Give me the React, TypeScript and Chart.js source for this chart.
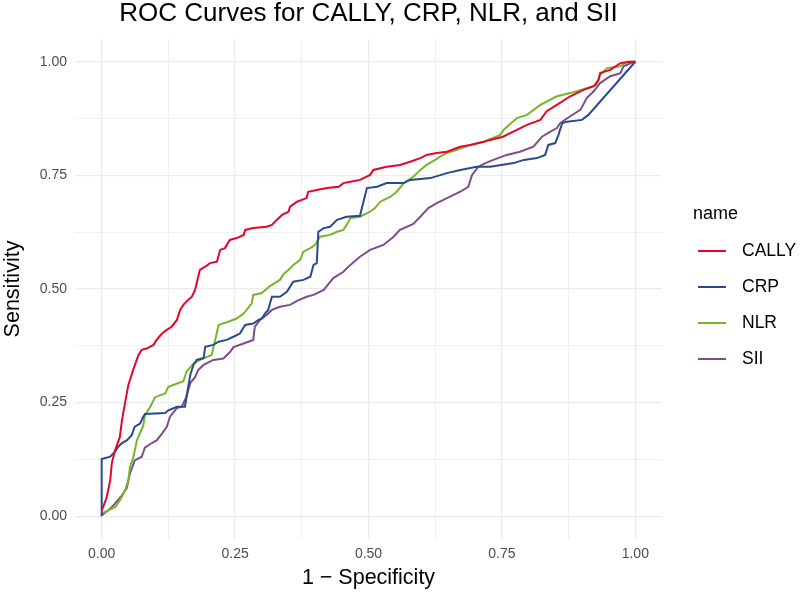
import React, { useEffect, useRef } from "react";
import { Chart, registerables } from "chart.js";

Chart.register(...registerables);

const chartTitle = "ROC Curves for CALLY, CRP, NLR, and SII";
const xAxisTitle = "1 \u2212 Specificity";
const yAxisTitle = "Sensitivity";
const legendTitle = "name";
const seriesNames = ["CALLY", "CRP", "NLR", "SII"];
const seriesColors = ["#E4062B", "#2B4A8C", "#77B62A", "#7E4C8F"];

const gridValues = [0, 0.125, 0.25, 0.375, 0.5, 0.625, 0.75, 0.875, 1];
const majorTickValues = [0, 0.25, 0.5, 0.75, 1];
const majorTickLabels = ["0.00", "0.25", "0.50", "0.75", "1.00"];

const callyX = [0, 0.002, 0.009, 0.016, 0.019, 0.025, 0.034, 0.038, 0.044, 0.05, 0.059, 0.069, 0.075, 0.084, 0.097, 0.103, 0.113, 0.122, 0.131, 0.141, 0.147, 0.153, 0.162, 0.169, 0.175, 0.184, 0.194, 0.203, 0.216, 0.222, 0.231, 0.24, 0.253, 0.266, 0.269, 0.284, 0.309, 0.319, 0.328, 0.338, 0.35, 0.353, 0.366, 0.384, 0.387, 0.403, 0.422, 0.444, 0.453, 0.466, 0.484, 0.503, 0.509, 0.534, 0.559, 0.578, 0.597, 0.609, 0.628, 0.647, 0.672, 0.691, 0.716, 0.728, 0.752, 0.778, 0.797, 0.822, 0.834, 0.853, 0.878, 0.903, 0.922, 0.931, 0.934, 0.953, 0.972, 0.991, 1];
const callyY = [0.013, 0.018, 0.04, 0.079, 0.117, 0.145, 0.174, 0.211, 0.251, 0.289, 0.322, 0.355, 0.366, 0.369, 0.377, 0.388, 0.402, 0.41, 0.417, 0.432, 0.454, 0.465, 0.476, 0.483, 0.498, 0.542, 0.549, 0.557, 0.56, 0.586, 0.59, 0.608, 0.612, 0.619, 0.63, 0.634, 0.637, 0.641, 0.652, 0.663, 0.67, 0.681, 0.692, 0.7, 0.714, 0.718, 0.722, 0.725, 0.733, 0.736, 0.74, 0.751, 0.762, 0.769, 0.773, 0.78, 0.788, 0.795, 0.799, 0.802, 0.813, 0.817, 0.824, 0.828, 0.835, 0.85, 0.861, 0.872, 0.891, 0.905, 0.924, 0.938, 0.946, 0.96, 0.975, 0.982, 0.997, 1, 1];

const crpX = [0, 0, 0.016, 0.025, 0.031, 0.038, 0.047, 0.056, 0.062, 0.072, 0.078, 0.081, 0.119, 0.125, 0.141, 0.156, 0.159, 0.166, 0.172, 0.178, 0.191, 0.194, 0.209, 0.219, 0.234, 0.247, 0.259, 0.269, 0.284, 0.294, 0.3, 0.306, 0.312, 0.319, 0.334, 0.347, 0.359, 0.378, 0.391, 0.397, 0.403, 0.406, 0.416, 0.428, 0.441, 0.459, 0.484, 0.497, 0.516, 0.534, 0.566, 0.578, 0.616, 0.647, 0.672, 0.703, 0.728, 0.772, 0.791, 0.816, 0.831, 0.837, 0.85, 0.856, 0.863, 0.872, 0.9, 0.912, 1];
const crpY = [0, 0.126, 0.131, 0.142, 0.153, 0.161, 0.167, 0.178, 0.197, 0.204, 0.219, 0.225, 0.227, 0.233, 0.241, 0.241, 0.263, 0.311, 0.333, 0.344, 0.348, 0.373, 0.377, 0.384, 0.388, 0.395, 0.402, 0.421, 0.424, 0.432, 0.435, 0.446, 0.454, 0.483, 0.483, 0.494, 0.516, 0.52, 0.527, 0.553, 0.557, 0.626, 0.634, 0.637, 0.652, 0.659, 0.661, 0.722, 0.725, 0.733, 0.733, 0.74, 0.744, 0.755, 0.762, 0.769, 0.769, 0.777, 0.784, 0.788, 0.795, 0.817, 0.821, 0.839, 0.865, 0.868, 0.872, 0.883, 1];

const nlrX = [0, 0.012, 0.025, 0.034, 0.044, 0.05, 0.053, 0.059, 0.066, 0.078, 0.081, 0.091, 0.1, 0.119, 0.125, 0.153, 0.159, 0.172, 0.184, 0.206, 0.212, 0.219, 0.237, 0.253, 0.266, 0.281, 0.284, 0.3, 0.316, 0.334, 0.341, 0.35, 0.359, 0.372, 0.378, 0.391, 0.4, 0.409, 0.428, 0.441, 0.453, 0.459, 0.466, 0.484, 0.503, 0.512, 0.522, 0.541, 0.553, 0.566, 0.584, 0.597, 0.609, 0.625, 0.634, 0.647, 0.666, 0.691, 0.716, 0.747, 0.753, 0.778, 0.797, 0.822, 0.853, 0.878, 0.909, 0.928, 0.934, 0.947, 0.972, 0.984, 1];
const nlrY = [0.006, 0.013, 0.02, 0.035, 0.057, 0.079, 0.109, 0.128, 0.167, 0.2, 0.222, 0.241, 0.262, 0.27, 0.285, 0.297, 0.318, 0.336, 0.344, 0.355, 0.384, 0.421, 0.428, 0.435, 0.446, 0.468, 0.487, 0.491, 0.507, 0.52, 0.533, 0.542, 0.553, 0.564, 0.582, 0.59, 0.597, 0.615, 0.619, 0.626, 0.63, 0.641, 0.656, 0.659, 0.67, 0.678, 0.692, 0.703, 0.714, 0.733, 0.747, 0.762, 0.773, 0.784, 0.791, 0.799, 0.806, 0.817, 0.824, 0.839, 0.85, 0.876, 0.883, 0.905, 0.924, 0.931, 0.942, 0.949, 0.971, 0.986, 0.99, 1, 1];

const siiX = [0, 0.012, 0.022, 0.038, 0.047, 0.053, 0.062, 0.075, 0.081, 0.091, 0.103, 0.113, 0.122, 0.128, 0.141, 0.15, 0.159, 0.166, 0.175, 0.181, 0.191, 0.209, 0.228, 0.241, 0.247, 0.266, 0.284, 0.287, 0.297, 0.309, 0.319, 0.334, 0.353, 0.366, 0.384, 0.397, 0.416, 0.434, 0.453, 0.466, 0.484, 0.503, 0.528, 0.547, 0.559, 0.584, 0.597, 0.612, 0.628, 0.647, 0.672, 0.687, 0.694, 0.706, 0.719, 0.734, 0.759, 0.784, 0.809, 0.825, 0.841, 0.853, 0.859, 0.878, 0.897, 0.909, 0.922, 0.934, 0.953, 0.972, 0.978, 0.997, 1];
const siiY = [0.002, 0.013, 0.024, 0.046, 0.062, 0.094, 0.123, 0.131, 0.151, 0.159, 0.167, 0.182, 0.197, 0.219, 0.238, 0.241, 0.263, 0.293, 0.306, 0.322, 0.333, 0.344, 0.347, 0.362, 0.372, 0.38, 0.388, 0.417, 0.432, 0.443, 0.454, 0.461, 0.465, 0.474, 0.483, 0.487, 0.498, 0.524, 0.538, 0.553, 0.571, 0.586, 0.597, 0.615, 0.63, 0.643, 0.659, 0.678, 0.689, 0.7, 0.714, 0.725, 0.751, 0.769, 0.777, 0.784, 0.795, 0.802, 0.813, 0.835, 0.846, 0.854, 0.865, 0.88, 0.894, 0.92, 0.935, 0.953, 0.968, 0.975, 0.99, 1, 1];

const seriesX = [callyX, crpX, nlrX, siiX];
const seriesY = [callyY, crpY, nlrY, siiY];

const FONT = "'Liberation Sans', Arial, Helvetica, sans-serif";

const isMajor = (v: number) => majorTickValues.some((m) => Math.abs(m - v) < 1e-9);
const labelFor = (v: number) => {
  const i = majorTickValues.findIndex((m) => Math.abs(m - v) < 1e-9);
  return i >= 0 ? majorTickLabels[i] : "";
};

const decorPlugin = {
  id: "decor",
  afterDraw(chart: any) {
    const { ctx, chartArea } = chart;
    ctx.save();
    ctx.fillStyle = "#000000";
    ctx.textBaseline = "middle";
    ctx.textAlign = "center";
    ctx.font = `26px ${FONT}`;
    ctx.fillText(chartTitle, (chartArea.left + chartArea.right) / 2, 14);

    ctx.textAlign = "left";
    ctx.font = `18px ${FONT}`;
    ctx.fillText(legendTitle, 693, 214);
    const rowY = [251, 287, 323, 359];
    chart.data.datasets.forEach((ds: any, i: number) => {
      ctx.strokeStyle = ds.borderColor;
      ctx.lineWidth = 2;
      ctx.beginPath();
      ctx.moveTo(698, rowY[i]);
      ctx.lineTo(726, rowY[i]);
      ctx.stroke();
      ctx.fillStyle = "#000000";
      ctx.font = `17.5px ${FONT}`;
      ctx.fillText(ds.label, 742, rowY[i]);
    });
    ctx.restore();
  },
};

export default function App() {
  const ref = useRef<HTMLCanvasElement | null>(null);
  useEffect(() => {
    document.body.style.margin = "0";
    const canvas = ref.current;
    if (!canvas) return;
    const datasets = seriesNames.map((name, i) => ({
      label: name,
      data: seriesX[i].map((x, j) => ({ x, y: seriesY[i][j] })),
      borderColor: seriesColors[i],
      backgroundColor: seriesColors[i],
      borderWidth: 2,
      pointRadius: 0,
      tension: 0,
      fill: false,
    }));
    const gridWidth = (ctx: any) => (ctx.tick && isMajor(ctx.tick.value) ? 1.3 : 0.7);
    const chart = new Chart(canvas, {
      type: "line",
      data: { datasets },
      plugins: [decorPlugin],
      options: {
        responsive: false,
        animation: false,
        layout: { padding: { top: 39, right: 138, left: 0, bottom: 0 } },
        plugins: { legend: { display: false }, title: { display: false }, tooltip: { enabled: false } },
        scales: {
          x: {
            type: "linear",
            min: -0.05,
            max: 1.05,
            afterBuildTicks: (s: any) => {
              s.ticks = gridValues.map((v) => ({ value: v }));
            },
            afterFit: (s: any) => {
              s.height = 56;
            },
            ticks: {
              autoSkip: false,
              maxRotation: 0,
              padding: 7,
              color: "#4D4D4D",
              font: { size: 14, family: FONT },
              callback: (v: any) => labelFor(Number(v)),
            },
            grid: { color: "#EBEBEB", lineWidth: gridWidth, drawTicks: false },
            border: { display: false },
            title: {
              display: true,
              text: xAxisTitle,
              color: "#000000",
              font: { size: 21.5, family: FONT },
              padding: { top: 0, bottom: 4 },
            },
          },
          y: {
            type: "linear",
            min: -0.05,
            max: 1.05,
            afterBuildTicks: (s: any) => {
              s.ticks = gridValues.map((v) => ({ value: v }));
            },
            afterFit: (s: any) => {
              s.width = 75;
            },
            ticks: {
              autoSkip: false,
              padding: 8,
              color: "#4D4D4D",
              font: { size: 14, family: FONT },
              callback: (v: any) => labelFor(Number(v)),
            },
            grid: { color: "#EBEBEB", lineWidth: gridWidth, drawTicks: false },
            border: { display: false },
            title: {
              display: true,
              text: yAxisTitle,
              color: "#000000",
              font: { size: 21.5, family: FONT },
              padding: { top: 0, bottom: 0 },
            },
          },
        },
      },
    } as any);
    return () => chart.destroy();
  }, []);
  return <canvas ref={ref} width={800} height={595} style={{ display: "block" }} />;
}
